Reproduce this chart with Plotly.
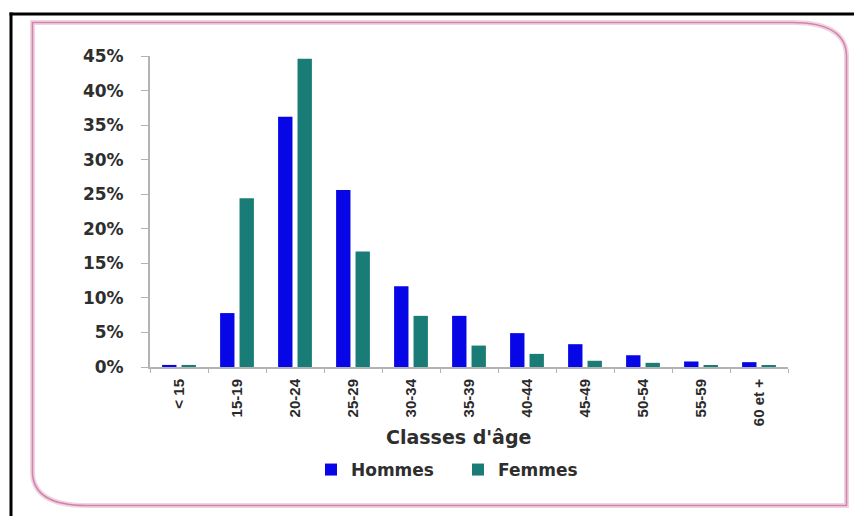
import plotly.graph_objects as go

categories = ["< 15", "15-19", "20-24", "25-29", "30-34", "35-39",
              "40-44", "45-49", "50-54", "55-59", "60 et +"]
hommes = [0.3, 7.8, 36.2, 25.6, 11.7, 7.4, 4.9, 3.3, 1.7, 0.8, 0.7]
femmes = [0.3, 24.4, 44.6, 16.7, 7.4, 3.1, 1.9, 0.9, 0.6, 0.2, 0.2]
y_ticks = [0, 5, 10, 15, 20, 25, 30, 35, 40, 45]
y_ticktext = [f"{v}%" for v in y_ticks]

W, H = 854, 516
L, R, T, B = 150, 66, 56, 149
PW, PH = W - L - R, H - T - B


def px(x):
    return (x - L) / PW


def py(y):
    return (H - B - y) / PH


fig = go.Figure()
fig.add_trace(go.Bar(name="Hommes", x=categories, y=hommes,
                     marker=dict(color="#0606E6", line=dict(width=0))))
fig.add_trace(go.Bar(name="Femmes", x=categories, y=femmes,
                     marker=dict(color="#1A7C76", line=dict(width=0))))

# frame shapes
x0, y0, x1, y1 = 32.5, 22.5, 846.5, 505.5
rx, ry = 54, 34
path = (f"M{px(x0)},{py(y0)} L{px(x1 - rx)},{py(y0)} "
        f"Q{px(x1)},{py(y0)} {px(x1)},{py(y0 + ry)} "
        f"L{px(x1)},{py(y1)} L{px(x0 + rx)},{py(y1)} "
        f"Q{px(x0)},{py(y1)} {px(x0)},{py(y1 - ry)} Z")
shapes = [
    dict(type="path", xref="paper", yref="paper", path=path,
         line=dict(color="#f3d3e3", width=5), layer="below"),
    dict(type="path", xref="paper", yref="paper", path=path,
         line=dict(color="#cf86aa", width=1.6), layer="below"),
    dict(type="line", xref="paper", yref="paper",
         x0=px(9.5), x1=px(860), y0=py(14), y1=py(14),
         line=dict(color="black", width=3)),
    dict(type="line", xref="paper", yref="paper",
         x0=px(11), x1=px(11), y0=py(12.5), y1=py(520),
         line=dict(color="black", width=3)),
]

fig.update_layout(
    width=W, height=H,
    margin=dict(l=L, r=R, t=T, b=B),
    paper_bgcolor="white", plot_bgcolor="white",
    barmode="group", bargap=0.33, bargroupgap=0.26,
    shapes=shapes,
    font=dict(family="DejaVu Sans", color="#2e2e2e"),
    showlegend=True,
    legend=dict(orientation="h", x=px(458), xanchor="center",
                y=py(470), yanchor="middle",
                font=dict(family="DejaVu Sans", size=17, weight="bold",
                          color="#2e2e2e"),
                itemwidth=30, entrywidth=102, entrywidthmode="pixels",
                bgcolor="rgba(0,0,0,0)"),
    annotations=[dict(text="Classes d'âge", xref="paper", yref="paper",
                      x=px(458), y=py(437), xanchor="center", yanchor="middle",
                      showarrow=False,
                      font=dict(family="DejaVu Sans", size=19, weight="bold",
                                color="#2e2e2e"))],
)

fig.update_xaxes(
    showline=True, linecolor="#b3b3b3", linewidth=2,
    ticks="outside", tickson="boundaries", ticklen=4, tickcolor="#b3b3b3",
    tickangle=-90, ticklabelstandoff=4,
    tickfont=dict(family="Liberation Sans", size=15, weight="bold",
                  color="#2a2a2a"),
    showgrid=False, zeroline=False,
)
fig.update_yaxes(
    range=[0, 45], tickvals=y_ticks, ticktext=y_ticktext,
    showline=True, linecolor="#b3b3b3", linewidth=2,
    ticks="outside", ticklen=7, tickcolor="#b3b3b3", ticklabelstandoff=14,
    tickfont=dict(family="DejaVu Sans", size=17, weight="bold",
                  color="#2e2e2e"),
    showgrid=False, zeroline=False,
)

fig.write_html("out.html",
               config={"displayModeBar": False},
               post_script="document.body.style.margin='0px';"
                           "document.body.style.overflow='hidden';")
